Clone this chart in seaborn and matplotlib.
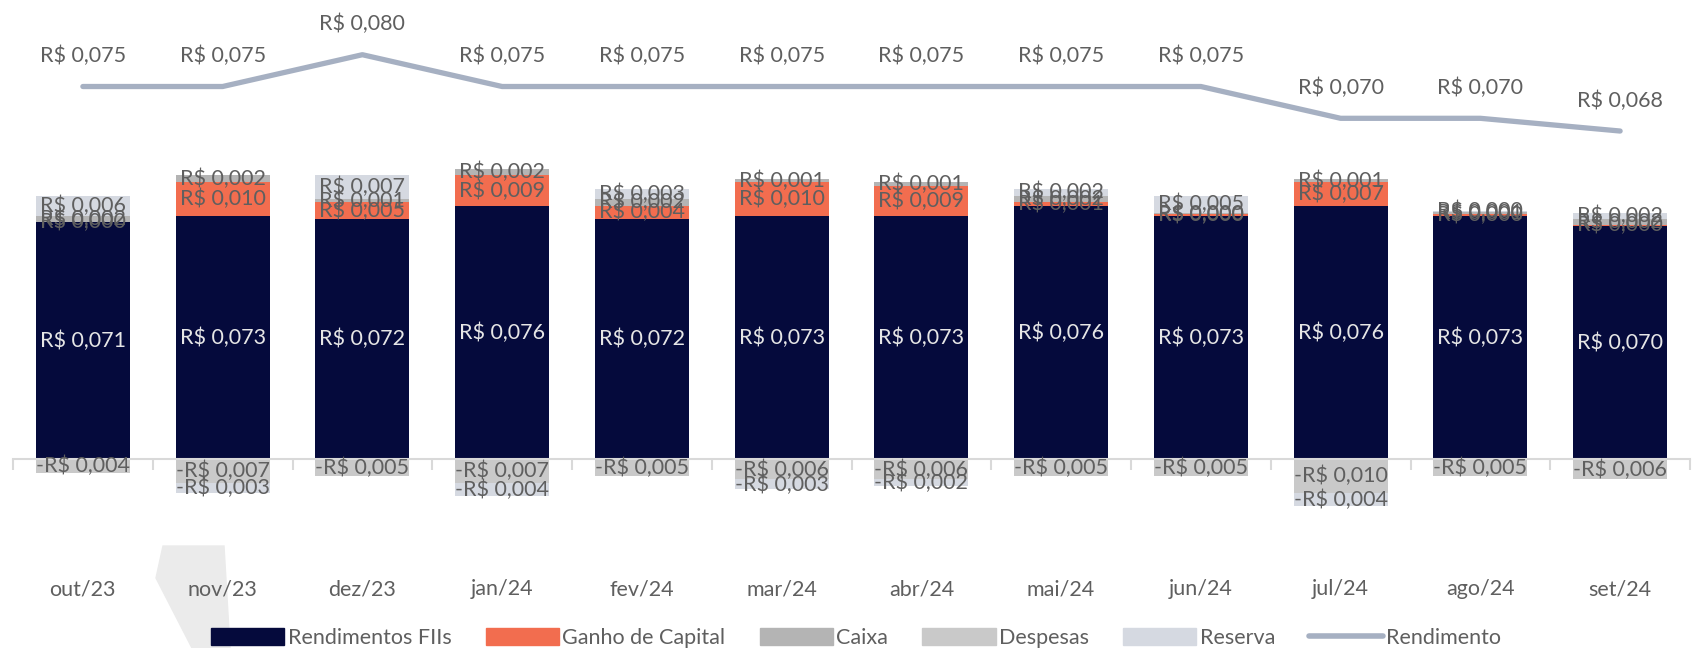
import numpy as np
import pandas as pd
import seaborn as sns
import matplotlib.pyplot as plt
from matplotlib.patches import Polygon
from matplotlib.lines import Line2D
from matplotlib.patches import Patch

# data
meses = ['out/23', 'nov/23', 'dez/23', 'jan/24', 'fev/24', 'mar/24',
         'abr/24', 'mai/24', 'jun/24', 'jul/24', 'ago/24', 'set/24']
rend_fiis = [0.071, 0.073, 0.072, 0.076, 0.072, 0.073, 0.073, 0.076, 0.073, 0.076, 0.073, 0.070]
ganho_capital = [0.0002, 0.010, 0.005, 0.009, 0.004, 0.010, 0.009, 0.001, 0.0004, 0.007, 0.0004, 0.0002]
caixa = [0.0018, 0.002, 0.001, 0.002, 0.002, 0.001, 0.001, 0.002, 0.0004, 0.001, 0.0008, 0.0018]
reserva_pos = [0.006, np.nan, 0.007, np.nan, 0.003, np.nan, np.nan, 0.002, 0.0052, np.nan, 0.0003, 0.0018]
despesas = [-0.004, -0.007, -0.005, -0.007, -0.005, -0.006, -0.006, -0.005, -0.005, -0.010, -0.005, -0.006]
reserva_neg = [np.nan, -0.003, np.nan, -0.004, np.nan, -0.003, -0.002, np.nan, np.nan, -0.004, np.nan, np.nan]
rendimento = [0.075, 0.075, 0.080, 0.075, 0.075, 0.075, 0.075, 0.075, 0.075, 0.070, 0.070, 0.068]

c_fiis = '#050a3c'
c_ganho = '#f26d4f'
c_caixa = '#b4b4b4'
c_desp = '#c9c9c9'
c_res = '#d5d9e1'
c_line = '#a6b0c2'
c_txt = '#5f5f5f'

sns.set_theme(style='white')
plt.rcParams['font.family'] = ['Lato', 'DejaVu Sans']
FS = 15.5


def fmt(v):
    s = 'R$ {:.3f}'.format(abs(v)).replace('.', ',')
    return '-' + s if v < 0 else s


df = pd.DataFrame({'mes': meses, 'fiis': rend_fiis, 'ganho': ganho_capital,
                   'caixa': caixa, 'res_pos': reserva_pos, 'desp': despesas,
                   'res_neg': reserva_neg, 'rend': rendimento})
df = df.fillna({'res_pos': 0, 'res_neg': 0})
df['c1'] = df['fiis']
df['c2'] = df['c1'] + df['ganho']
df['c3'] = df['c2'] + df['caixa']
df['c4'] = df['c3'] + df['res_pos']
df['n1'] = df['desp']
df['n2'] = df['n1'] + df['res_neg']

fig = plt.figure(figsize=(16.95, 6.48), dpi=100)
ax = fig.add_axes([13 / 1695, 1 - 530 / 648, 1677 / 1695, 520 / 648])
ax.patch.set_alpha(0)

# decorative chevron behind the labels
fig.patches.append(Polygon([[163 / 1695, 1 - 546 / 648], [224 / 1695, 1 - 546 / 648],
                            [230 / 1695, 0], [192 / 1695, 0], [156 / 1695, 1 - 578 / 648]],
                           closed=True, transform=fig.transFigure, color='#ebebeb', zorder=-5))

W = 0.672
layers = [('c4', c_res), ('c3', c_caixa), ('c2', c_ganho), ('c1', c_fiis),
          ('n2', c_res), ('n1', c_desp)]
for col, color in layers:
    sns.barplot(data=df, x='mes', y=col, order=meses, color=color, saturation=1,
                width=W, errorbar=None, linewidth=0, ax=ax)

# segment labels
for i in range(len(meses)):
    r = df.iloc[i]
    segs = [(0, r['fiis'], r['fiis'], '#e6e6e6'),
            (r['c1'], r['ganho'], ganho_capital[i], c_txt),
            (r['c2'], r['caixa'], caixa[i], c_txt),
            (r['c3'], r['res_pos'], reserva_pos[i], c_txt),
            (0, r['desp'], despesas[i], c_txt),
            (r['n1'], r['res_neg'], reserva_neg[i], c_txt)]
    for base, h, val, tc in segs:
        if np.isnan(val):
            continue
        ax.text(i, base + h / 2, fmt(val), ha='center', va='center',
                fontsize=FS, color=tc)

ax.set_xlim(-0.5, len(meses) - 0.5)
ax.set_ylim(-0.02114, 0.13455)
for s in ['top', 'right', 'left']:
    ax.spines[s].set_visible(False)
ax.spines['bottom'].set_position(('data', 0))
ax.spines['bottom'].set_color('#d9d9d9')
ax.spines['bottom'].set_linewidth(1.5)
ax.set_xticks(np.arange(-0.5, len(meses), 1))
ax.set_xticklabels([])
ax.tick_params(axis='x', direction='out', length=8, width=1.5, color='#d9d9d9', bottom=True)
ax.set_yticks([])
ax.set_xlabel('')
ax.set_ylabel('')

trans = ax.get_xaxis_transform()
y_cat = (530 - 589) / 520
for i, m in enumerate(meses):
    ax.text(i, y_cat, m, transform=trans, ha='center', va='center',
            fontsize=FS, color=c_txt, clip_on=False)

# Rendimento line on a secondary axis
ax2 = ax.twinx()
sns.lineplot(x=np.arange(len(meses)), y=rendimento, ax=ax2, color=c_line,
             linewidth=3.8, solid_capstyle='round')
ax2.set_ylim(0.00527, 0.08703)
ax2.set_axis_off()
for i, v in enumerate(rendimento):
    ax2.annotate(fmt(v), (i, v), xytext=(0, 22), textcoords='offset points',
                 ha='center', va='center', fontsize=FS, color=c_txt)

handles = [Patch(color=c_fiis), Patch(color=c_ganho), Patch(color=c_caixa),
           Patch(color=c_desp), Patch(color=c_res),
           Line2D([0], [0], color=c_line, linewidth=4, solid_capstyle='round')]
labels = ['Rendimentos FIIs', 'Ganho de Capital', 'Caixa', 'Despesas', 'Reserva', 'Rendimento']
leg = fig.legend(handles, labels, loc='center', bbox_to_anchor=(0.505, 1 - 638 / 648),
                 ncol=6, frameon=False, fontsize=FS, handlelength=3.4, handleheight=0.8,
                 handletextpad=0.15, columnspacing=1.6)
for t in leg.get_texts():
    t.set_color(c_txt)

plt.savefig('out.png', dpi=100)
